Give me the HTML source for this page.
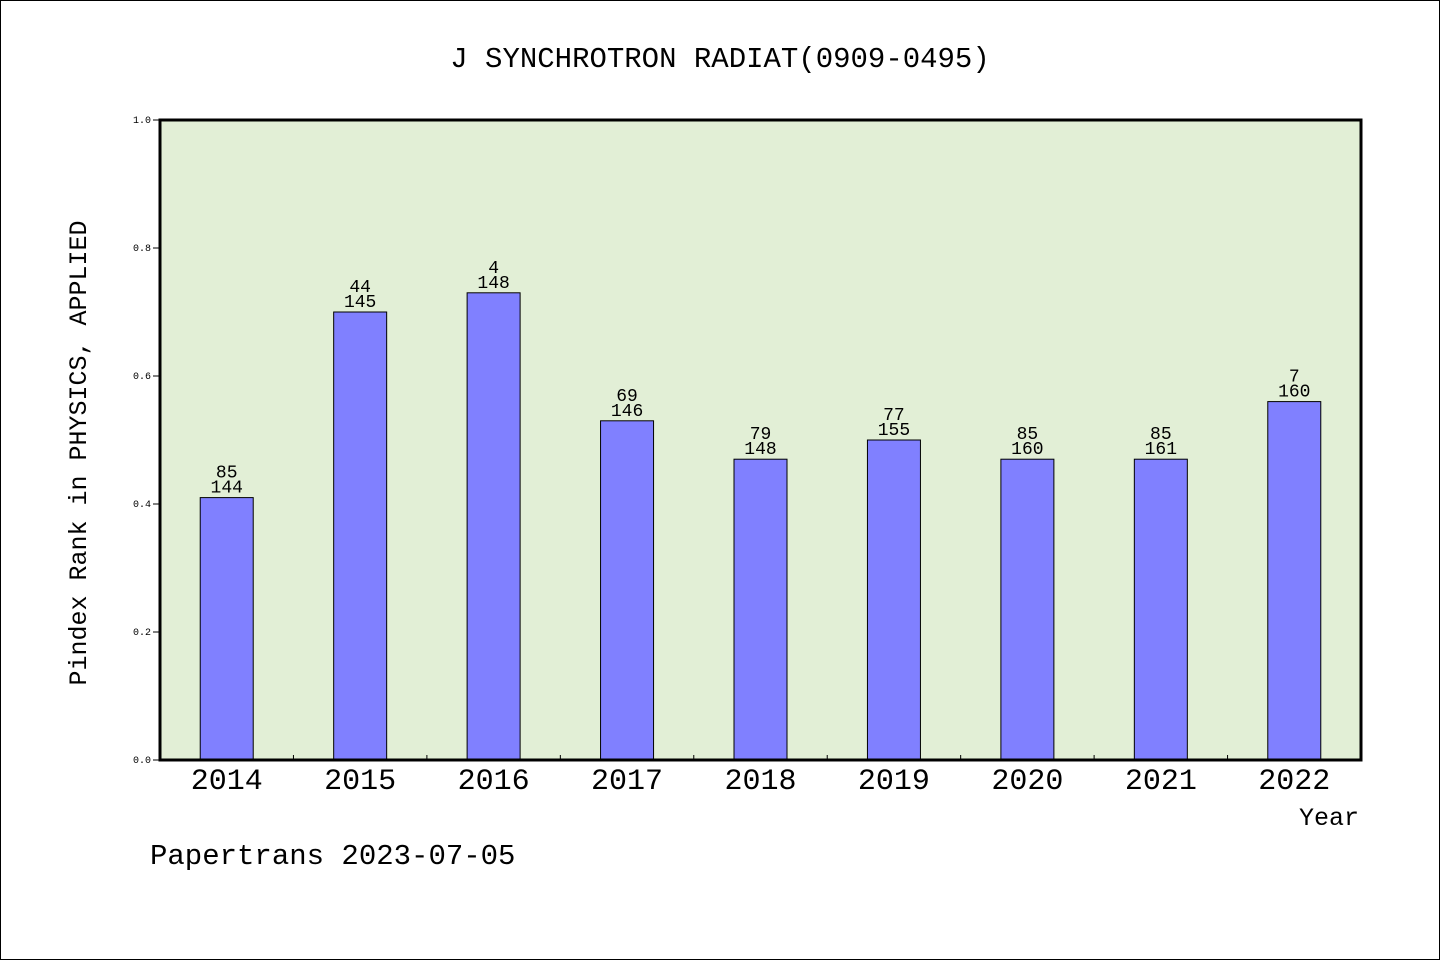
<!DOCTYPE html>
<html><head><meta charset="utf-8"><style>
body{margin:0;background:#fff}
svg text{font-family:"Liberation Mono","DejaVu Sans Mono",monospace;fill:#000}
</style></head><body>
<svg width="1440" height="960" id="c">
<rect x="0.5" y="0.5" width="1439" height="959" fill="#fff" stroke="#000"/>
<text x="720" y="67" text-anchor="middle" font-size="29">J SYNCHROTRON RADIAT(0909-0495)</text>
<rect x="160" y="120" width="1201" height="640" fill="#e2efd6"/>
<g id="bars"></g>
<rect x="160" y="120" width="1201" height="640" fill="none" stroke="#000" stroke-width="3"/>
<text transform="translate(86,453) rotate(-90)" text-anchor="middle" font-size="25">Pindex Rank in PHYSICS, APPLIED</text>
<text x="1359" y="825" text-anchor="end" font-size="25">Year</text>
<text x="150" y="864" font-size="29">Papertrans 2023-07-05</text>
</svg>
<script>
const years=["2014","2015","2016","2017","2018","2019","2020","2021","2022"];
const values=[0.41,0.70,0.73,0.53,0.47,0.50,0.47,0.47,0.56];
const ranks=["85","44","4","69","79","77","85","85","7"];
const totals=["144","145","148","146","148","155","160","161","160"];
const yTicks=["0.0","0.2","0.4","0.6","0.8","1.0"];
const NS="http://www.w3.org/2000/svg";
const svg=document.getElementById('c'),g=document.getElementById('bars');
const x0=160,pw=1201,y0=760,ph=640,bw=53;
const step=pw/years.length;
const y=v=>y0-v*ph;
function mk(t,a,p){const e=document.createElementNS(NS,t);for(const k in a)e.setAttribute(k,a[k]);(p||svg).appendChild(e);return e;}
yTicks.forEach((t,i)=>{
 const v=parseFloat(t),yy=y(v);
 const l=mk('line',{x1:153,x2:160,y1:yy,y2:yy,stroke:'#000'});
 
 
 const tx=mk('text',{x:151,y:yy+3,'text-anchor':'end','font-size':10});
 tx.textContent=t;
 
 
});
years.forEach((yr,i)=>{
 const cx=x0+step*(i+0.5),top=y(values[i]);
 const r=mk('rect',{x:cx-bw/2,y:top,width:bw,height:y0-top,fill:'#8080ff',stroke:'#000','stroke-width':1},g);
 
 
 const a=mk('text',{x:cx,y:top-20,'text-anchor':'middle','font-size':18},g);
 a.textContent=ranks[i];
 
 
 const b=mk('text',{x:cx,y:top-5,'text-anchor':'middle','font-size':18},g);
 b.textContent=totals[i];
 
 
 const xl=mk('text',{x:cx,y:789,'text-anchor':'middle','font-size':30});
 xl.textContent=yr;
 
 
 if(i>0){const tk=mk('line',{x1:x0+step*i,x2:x0+step*i,y1:755,y2:760,stroke:'#000'},g);
 
 }
});
</script>
</body></html>
